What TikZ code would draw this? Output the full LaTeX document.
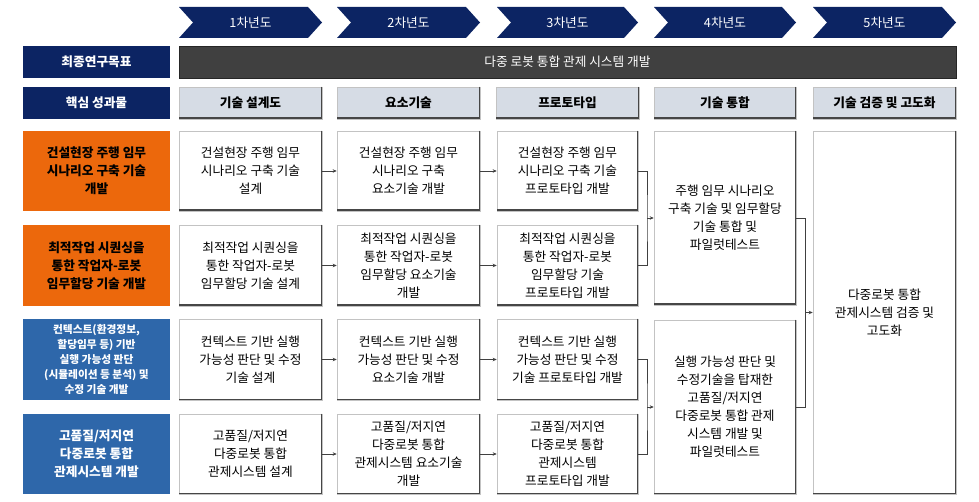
\documentclass[tikz,border=0pt]{standalone}
\usepackage{fontspec}
\setmainfont{Noto Sans CJK KR}
\usetikzlibrary{arrows.meta}
\definecolor{navy}{RGB}{12,36,99}
\definecolor{orng}{RGB}{236,104,12}
\definecolor{blu}{RGB}{46,103,170}
\definecolor{darkbar}{RGB}{64,64,64}
\definecolor{hdr}{RGB}{214,220,229}
\definecolor{shd}{RGB}{70,70,70}
\definecolor{lbord}{RGB}{195,195,195}
\tikzset{
  base/.style={inner sep=0pt, align=center, font=\fontsize{12.7}{18}\selectfont},
  labelbox/.style={base, fill=navy, text=white, minimum width=147pt, minimum height=32pt, font=\fontsize{12.7}{18}\selectfont\bfseries},
  hdrbox/.style={base, fill=hdr, draw=lbord, line width=0.6pt, minimum width=143pt, minimum height=32pt, font=\fontsize{12.7}{18}\selectfont\bfseries},
  wbox/.style={base, fill=white, draw=lbord, line width=0.6pt, minimum width=143pt},
  obox/.style={base, fill=orng, text=black, minimum width=147pt, font=\fontsize{12.7}{18}\selectfont\bfseries},
  bbox/.style={base, fill=blu, text=white, minimum width=147pt, font=\fontsize{12.7}{18}\selectfont\bfseries},
  shadowline/.style={draw=shd, line width=1.8pt},
  conn/.style={draw=black!75, line width=0.8pt},
  arr/.style={conn, -{Stealth[length=4pt,width=3.5pt]}},
  chev/.style={fill=navy},
  yeartext/.style={text=white, font=\fontsize{12.7}{15}\selectfont}
}
\begin{document}
\begin{tikzpicture}[x=1pt,y=-1pt]
\useasboundingbox (0,0) rectangle (979,502);
% chevrons
\foreach \xa/\xb/\lab [count=\i] in {179/322/1차년도, 337/480/2차년도, 497/638/3차년도, 654/796/4차년도, 813/956/5차년도}{
  \fill[chev] (\xa,7) -- (\xb-14,7) -- (\xb,22.5) -- (\xb-14,38) -- (\xa,38) -- (\xa+14,22.5) -- cycle;
  \node[yeartext] (yr\i) at ({(\xa+\xb)/2},22.5) {\lab};
}
% goal row
\node[labelbox] (goalL) at (96.5,62) {최종연구목표};
\node[base, fill=darkbar, draw=black!85, line width=0.6pt, minimum width=777pt, minimum height=32pt, text=white] (goal) at (567.5,62) {다중 로봇 통합 관제 시스템 개발};
% header row
\node[labelbox] (coreL) at (96.5,103) {핵심 성과물};
\node[hdrbox] (h1) at (250.5,103) {기술 설계도};
\node[hdrbox] (h2) at (408.5,103) {요소기술};
\node[hdrbox] (h3) at (567.5,103) {프로토타입};
\node[hdrbox, minimum width=142pt] (h4) at (725,103) {기술 통합};
\node[hdrbox] (h5) at (884.5,103) {기술 검증 및 고도화};
% left column
\node[obox, minimum height=80pt] (L1) at (96.5,171) {건설현장 주행 임무\\시나리오 구축 기술\\개발};
\node[obox, minimum height=81pt] (L2) at (96.5,265.5) {최적작업 시퀀싱을\\통한 작업자-로봇\\임무할당 기술 개발};
\node[bbox, minimum height=81pt, font=\fontsize{10.7}{15}\selectfont\bfseries] (L3) at (96.5,359.5) {컨텍스트(환경정보,\\할당임무 등) 기반\\실행 가능성 판단\\(시뮬레이션 등 분석) 및\\수정 기술 개발};
\node[bbox, minimum height=80pt] (L4) at (96.5,454) {고품질/저지연\\다중로봇 통합\\관제시스템 개발};
% column 1
\node[wbox, minimum height=80pt] (c1r1) at (250.5,171) {건설현장 주행 임무\\시나리오 구축 기술\\설계};
\node[wbox, minimum height=81pt] (c1r2) at (250.5,265.5) {최적작업 시퀀싱을\\통한 작업자-로봇\\임무할당 기술 설계};
\node[wbox, minimum height=81pt] (c1r3) at (250.5,359.5) {컨텍스트 기반 실행\\가능성 판단 및 수정\\기술 설계};
\node[wbox, minimum height=80pt] (c1r4) at (250.5,454) {고품질/저지연\\다중로봇 통합\\관제시스템 설계};
% column 2
\node[wbox, minimum height=80pt] (c2r1) at (408.5,171) {건설현장 주행 임무\\시나리오 구축\\요소기술 개발};
\node[wbox, minimum height=81pt] (c2r2) at (408.5,265.5) {최적작업 시퀀싱을\\통한 작업자-로봇\\임무할당 요소기술\\개발};
\node[wbox, minimum height=81pt] (c2r3) at (408.5,359.5) {컨텍스트 기반 실행\\가능성 판단 및 수정\\요소기술 개발};
\node[wbox, minimum height=80pt] (c2r4) at (408.5,454) {고품질/저지연\\다중로봇 통합\\관제시스템 요소기술\\개발};
% column 3
\node[wbox, minimum width=141pt, minimum height=80pt] (c3r1) at (567.5,171) {건설현장 주행 임무\\시나리오 구축 기술\\프로토타입 개발};
\node[wbox, minimum width=141pt, minimum height=81pt] (c3r2) at (567.5,265.5) {최적작업 시퀀싱을\\통한 작업자-로봇\\임무할당 기술\\프로토타입 개발};
\node[wbox, minimum width=141pt, minimum height=81pt] (c3r3) at (567.5,359.5) {컨텍스트 기반 실행\\가능성 판단 및 수정\\기술 프로토타입 개발};
\node[wbox, minimum width=141pt, minimum height=80pt] (c3r4) at (567.5,454) {고품질/저지연\\다중로봇 통합\\관제시스템\\프로토타입 개발};
% column 4
\node[wbox, minimum width=142pt, minimum height=174pt] (c4a) at (725,218) {주행 임무 시나리오\\구축 기술 및 임무할당\\기술 통합 및\\파일럿테스트};
\node[wbox, minimum width=142pt, minimum height=174pt] (c4b) at (725,407) {실행 가능성 판단 및\\수정기술을 탑재한\\고품질/저지연\\다중로봇 통합 관제\\시스템 개발 및\\파일럿테스트};
% column 5
\node[wbox, minimum height=363pt] (c5) at (884.5,312.5) {다중로봇 통합\\관제시스템 검증 및\\고도화};
% shadows
\foreach \n in {h1,h2,h3,h4,h5,c1r1,c1r2,c1r3,c1r4,c2r1,c2r2,c2r3,c2r4,c3r1,c3r2,c3r3,c3r4,c4a,c4b,c5}{
  \draw[shadowline] ([xshift=-0.9pt]\n.north east) -- ([xshift=-0.9pt,yshift=0.9pt]\n.south east) -- ([yshift=0.9pt]\n.south west);
}
% connectors col1 -> col2
\foreach \r in {1,2,3,4}{
  \draw[arr] (c1r\r.east) -- (c2r\r.west);
}
% col2 -> col3
\foreach \r in {1,2,3,4}{
  \draw[arr] (c2r\r.east) -- (c3r\r.west);
}
% col3 -> col4 brackets
\coordinate (j1) at (647,218);
\coordinate (j2) at (647,407);
\coordinate (j3) at (805,312.5);
\draw[conn] (c3r1.east) -| (j1) |- (c3r2.east);
\draw[arr] (j1) -- (c4a.west);
\draw[conn] (c3r3.east) -| (j2) |- (c3r4.east);
\draw[arr] (j2) -- (c4b.west);
\draw[conn] (c4a.east) -| (j3) |- (c4b.east);
\draw[arr] (j3) -- (c5.west);
\end{tikzpicture}
\end{document}
